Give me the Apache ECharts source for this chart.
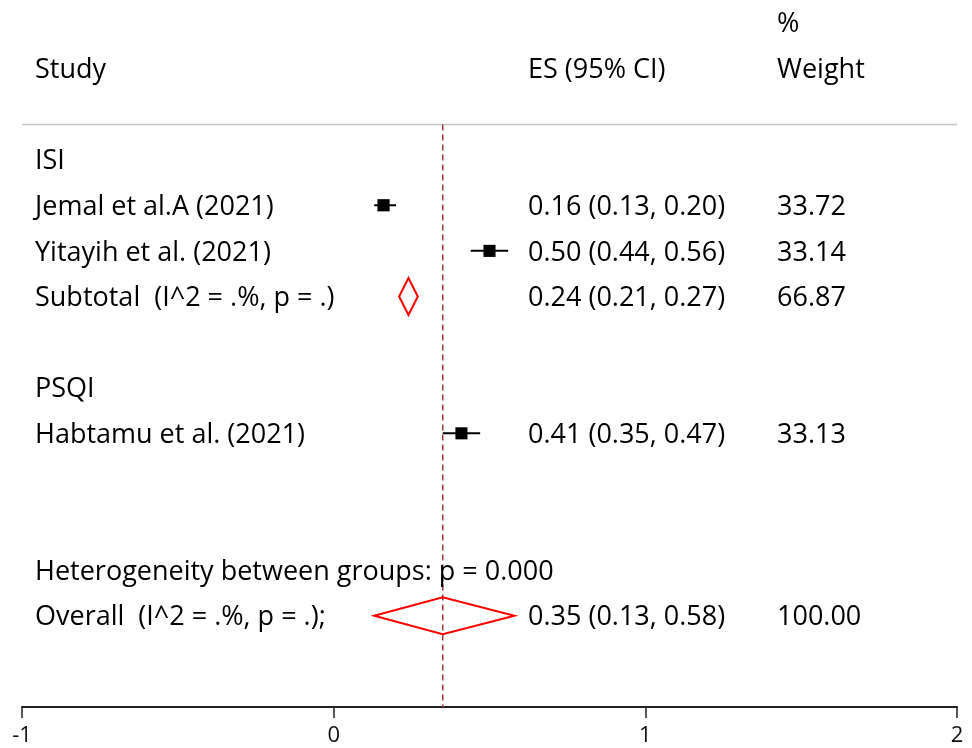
<!DOCTYPE html>
<html><head><meta charset="utf-8">
<script src="https://cdn.jsdelivr.net/npm/echarts@6/dist/echarts.min.js"></script>
<style>html,body{margin:0;padding:0;background:#fff}#c{width:972px;height:748px}</style>
</head><body><div id="c"></div>
<script>
// ---- data ----
const labelTexts = ["ISI","Jemal et al.A (2021)","Yitayih et al. (2021)","Subtotal  (I^2 = .%, p = .)","PSQI","Habtamu et al. (2021)","Heterogeneity between groups: p = 0.000","Overall  (I^2 = .%, p = .);"];
const labelRows = [1,2,3,4,6,7,10,11];
const studyRows = [2,3,7];
const studyES = [0.16,0.50,0.41];
const studyLo = [0.13,0.44,0.35];
const studyHi = [0.20,0.56,0.47];
const studyWeight = [33.72,33.14,33.13];
const poolRows = [4,11];
const poolES = [0.24,0.35];
const poolLo = [0.21,0.13];
const poolHi = [0.27,0.58];
const poolWeight = [66.87,100.00];
const xTicks = [-1,0,1,2];
const overallES = poolES[1];

const FONT = '"Open Sans"';
const FS = 27;
const colStudy = 35, colES = 528, colW = 777;
const fmt = v => v.toFixed(2);

const textData = [];
labelTexts.forEach((t,i)=>textData.push([colStudy,labelRows[i],t]));
studyRows.forEach((r,i)=>{
  textData.push([colES,r,fmt(studyES[i])+' ('+fmt(studyLo[i])+', '+fmt(studyHi[i])+')']);
  textData.push([colW,r,studyWeight[i].toFixed(2)]);
});
poolRows.forEach((r,i)=>{
  textData.push([colES,r,fmt(poolES[i])+' ('+fmt(poolLo[i])+', '+fmt(poolHi[i])+')']);
  textData.push([colW,r,poolWeight[i].toFixed(2)]);
});
textData.push([colStudy,-1,'Study']);
textData.push([colES,-1,'ES (95% CI)']);
textData.push([colW,-1,'Weight']);
textData.push([colW,-2,'%']);

const chart = echarts.init(document.getElementById('c'));
chart.setOption({
  animation:false,
  grid:{left:22,right:15,top:0,bottom:41},
  xAxis:{type:'value',min:-1,max:2,interval:1,position:'bottom',
    axisLine:{show:true,onZero:false,lineStyle:{color:'#222',width:2}},
    axisTick:{show:true,length:11,lineStyle:{color:'#222',width:1.5}},
    axisLabel:{color:'#111',fontFamily:FONT,fontSize:22,margin:18,
      formatter:v=>xTicks.includes(v)?String(v):''},
    splitLine:{show:false}},
  yAxis:{type:'value',min:-2.5,max:13,inverse:true,show:false},
  series:[
    { // header rule and dashed overall line
      type:'custom',
      data:[[0]],
      renderItem:(p,api)=>{
        const yRule = api.coord([0,0.23])[1];
        const xo = api.coord([overallES,0])[0];
        const yb = api.coord([0,13])[1];
        const cs = p.coordSys;
        return {type:'group',children:[
          {type:'line',shape:{x1:cs.x,y1:yRule,x2:cs.x+cs.width,y2:yRule},style:{stroke:'#c8c8c8',lineWidth:1.5}},
          {type:'line',shape:{x1:xo,y1:yRule,x2:xo,y2:yb},style:{stroke:'#9e3a3e',lineWidth:1.5,lineDash:[6,4]}}
        ]};
      },
      silent:true
    },
    { // study CIs and squares
      type:'custom',
      data:studyRows.map((r,i)=>[studyES[i],r,studyLo[i],studyHi[i],studyWeight[i]]),
      renderItem:(p,api)=>{
        const r=api.value(1);
        const c=api.coord([api.value(0),r]);
        const l=api.coord([api.value(2),r]);
        const h=api.coord([api.value(3),r]);
        const s=Math.sqrt(api.value(4))*2.1;
        return {type:'group',children:[
          {type:'line',shape:{x1:l[0],y1:c[1],x2:h[0],y2:c[1]},style:{stroke:'#000',lineWidth:2}},
          {type:'rect',shape:{x:c[0]-s/2,y:c[1]-s/2,width:s,height:s},style:{fill:'#000'}}
        ]};
      }
    },
    { // pooled diamonds
      type:'custom',
      data:poolRows.map((r,i)=>[poolES[i],r,poolLo[i],poolHi[i]]),
      renderItem:(p,api)=>{
        const r=api.value(1);
        const c=api.coord([api.value(0),r]);
        const l=api.coord([api.value(2),r]);
        const h=api.coord([api.value(3),r]);
        const hh=18.5;
        return {type:'polygon',shape:{points:[[l[0],c[1]],[c[0],c[1]-hh],[h[0],c[1]],[c[0],c[1]+hh]]},
          style:{fill:'none',stroke:'#ff0000',lineWidth:2}};
      }
    },
    { // texts
      type:'custom',
      data:textData,
      renderItem:(p,api)=>{
        const y=api.coord([0,api.value(1)])[1]+2;
        return {type:'text',x:api.value(0),y:y,
          style:{text:textData[p.dataIndex][2],fill:'#000',font:FS+'px '+FONT,textAlign:'left',textVerticalAlign:'middle'}};
      }
    }
  ]
});
</script></body></html>
